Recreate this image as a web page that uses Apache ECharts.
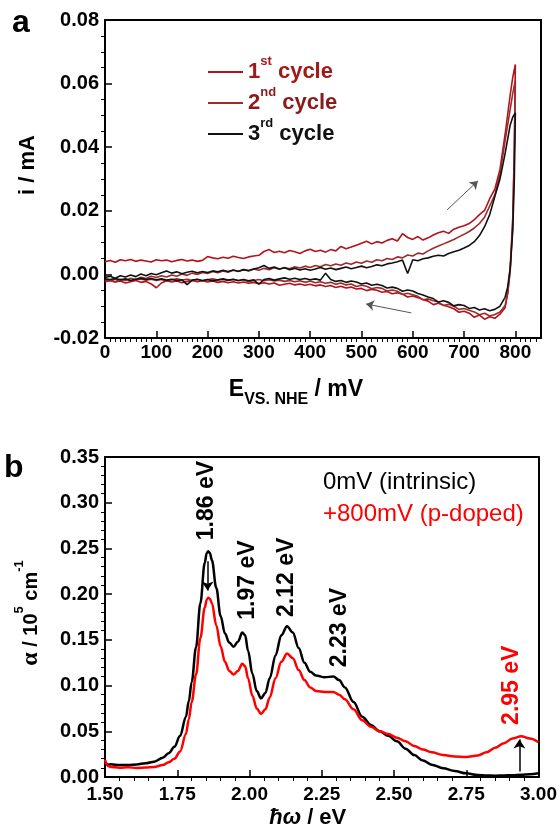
<!DOCTYPE html>
<html>
<head>
<meta charset="utf-8">
<script src="https://cdn.jsdelivr.net/npm/echarts@6/dist/echarts.min.js"></script>
<style>
  html, body { margin: 0; padding: 0; background: #fff; }
  #chart { width: 560px; height: 833px; }
</style>
</head>
<body>
<div id="chart"></div>
<script>
// ---------- (a) cyclic voltammetry, three cycles ----------
// forward sweep potentials (mV vs NHE)
const potentialFwd = [
  0, 10, 20, 30, 40, 50, 60, 70, 80, 90,
  100, 110, 120, 130, 140, 150, 160, 170, 180, 190,
  200, 210, 220, 230, 240, 250, 260, 270, 280, 290,
  300, 310, 320, 330, 340, 350, 360, 370, 380, 390,
  400, 410, 420, 430, 440, 450, 460, 470, 480, 490,
  500, 510, 520, 530, 540, 550, 560, 570, 580, 590,
  600, 610, 620, 630, 640, 650, 660, 670, 680, 690,
  700, 710, 720, 730, 740, 750, 760, 770, 780, 790,
  795, 800
];
// reverse sweep potentials (mV vs NHE)
const potentialRev = [
  800, 798, 795, 790, 785, 780,
  770, 760, 750, 740, 730, 720, 710, 700, 690, 680,
  670, 660, 650, 640, 630, 620, 610, 600, 590, 580,
  570, 560, 550, 540, 530, 520, 510, 500, 490, 480,
  470, 460, 450, 440, 430, 420, 410, 400, 390, 380,
  370, 360, 350, 340, 330, 320, 310, 300, 290, 280,
  270, 260, 250, 240, 230, 220, 210, 200, 190, 180,
  170, 160, 150, 140, 130, 120, 110, 100, 90, 80,
  70, 60, 50, 40, 30, 20, 10, 0
];
// currents (mA)
const cycle1Fwd = [
  0.0040, 0.0044, 0.0038, 0.0046, 0.0043, 0.0047, 0.0041, 0.0045, 0.0042, 0.0039,
  0.0046, 0.0043, 0.0045, 0.0040, 0.0044, 0.0047, 0.0042, 0.0045, 0.0041, 0.0044,
  0.0056, 0.0052, 0.0049, 0.0054, 0.0051, 0.0057, 0.0053, 0.0050, 0.0055, 0.0058,
  0.0060, 0.0072, 0.0078, 0.0069, 0.0073, 0.0068, 0.0075, 0.0071, 0.0066, 0.0074,
  0.0079, 0.0072, 0.0076, 0.0070, 0.0078, 0.0074, 0.0088, 0.0081, 0.0086, 0.0092,
  0.0098, 0.0104, 0.0096, 0.0103, 0.0099, 0.0107, 0.0112, 0.0105, 0.0128, 0.0116,
  0.0110, 0.0119, 0.0108, 0.0115, 0.0124, 0.0131, 0.0136, 0.0129, 0.0142, 0.0148,
  0.0153, 0.0160, 0.0172, 0.0188, 0.0201, 0.0238, 0.0268, 0.0330, 0.0440, 0.0565,
  0.0620, 0.0660
];
const cycle1Rev = [
  0.0660, 0.0400, 0.0180, 0.0020, -0.0060, -0.0105,
  -0.0125, -0.0138, -0.0133, -0.0141, -0.0128, -0.0135, -0.0122, -0.0116, -0.0119, -0.0108,
  -0.0102, -0.0097, -0.0091, -0.0095, -0.0084, -0.0079, -0.0073, -0.0068, -0.0071, -0.0062,
  -0.0058, -0.0061, -0.0054, -0.0056, -0.0050, -0.0047, -0.0051, -0.0044, -0.0046, -0.0040,
  -0.0043, -0.0037, -0.0041, -0.0035, -0.0038, -0.0033, -0.0036, -0.0031, -0.0034, -0.0030,
  -0.0033, -0.0028, -0.0031, -0.0034, -0.0027, -0.0030, -0.0026, -0.0029, -0.0025, -0.0028,
  -0.0024, -0.0027, -0.0023, -0.0026, -0.0022, -0.0025, -0.0021, -0.0024, -0.0020, -0.0023,
  -0.0019, -0.0022, -0.0026, -0.0021, -0.0024, -0.0020, -0.0027, -0.0042, -0.0030, -0.0022,
  -0.0025, -0.0019, -0.0023, -0.0027, -0.0021, -0.0024, -0.0020, -0.0023
];
const cycle2Fwd = [
  -0.0022, -0.0018, -0.0024, -0.0015, -0.0019, -0.0012, -0.0016, -0.0009, -0.0013, -0.0006,
  -0.0010, -0.0004, -0.0008, -0.0002, -0.0006, 0.0001, -0.0003, 0.0004, 0.0000, 0.0006,
  0.0003, 0.0009, 0.0005, 0.0011, 0.0007, 0.0013, 0.0009, 0.0015, 0.0011, 0.0017,
  0.0013, 0.0019, 0.0015, 0.0021, 0.0016, 0.0022, 0.0018, 0.0024, 0.0020, 0.0026,
  0.0022, 0.0028, 0.0024, 0.0031, 0.0027, 0.0033, 0.0029, 0.0036, 0.0032, 0.0039,
  0.0035, 0.0042, 0.0038, 0.0046, 0.0043, 0.0050, 0.0047, 0.0055, 0.0052, 0.0061,
  0.0058, 0.0067, 0.0064, 0.0074, 0.0082, 0.0089, 0.0096, 0.0103, 0.0110, 0.0118,
  0.0126, 0.0135, 0.0146, 0.0160, 0.0180, 0.0215, 0.0250, 0.0315, 0.0420, 0.0520,
  0.0570, 0.0610
];
const cycle2Rev = [
  0.0610, 0.0380, 0.0160, 0.0010, -0.0060, -0.0098,
  -0.0118, -0.0126, -0.0131, -0.0122, -0.0127, -0.0118, -0.0113, -0.0107, -0.0110, -0.0100,
  -0.0094, -0.0098, -0.0087, -0.0083, -0.0077, -0.0080, -0.0069, -0.0064, -0.0059, -0.0063,
  -0.0053, -0.0049, -0.0052, -0.0044, -0.0041, -0.0045, -0.0037, -0.0034, -0.0038, -0.0030,
  -0.0033, -0.0027, -0.0031, -0.0025, -0.0028, -0.0023, -0.0026, -0.0021, -0.0025, -0.0020,
  -0.0023, -0.0019, -0.0022, -0.0018, -0.0021, -0.0017, -0.0020, -0.0016, -0.0019, -0.0023,
  -0.0017, -0.0020, -0.0016, -0.0019, -0.0015, -0.0018, -0.0014, -0.0017, -0.0021, -0.0016,
  -0.0019, -0.0015, -0.0018, -0.0014, -0.0017, -0.0021, -0.0016, -0.0019, -0.0015, -0.0018,
  -0.0014, -0.0017, -0.0020, -0.0016, -0.0019, -0.0015, -0.0018, -0.0016
];
const cycle3Fwd = [
  -0.0010, -0.0006, -0.0012, -0.0004, -0.0008, -0.0002, -0.0007, 0.0001, -0.0004, 0.0003,
  -0.0001, 0.0005, 0.0011, 0.0004, 0.0008, 0.0002, 0.0007, 0.0010, 0.0005, 0.0009,
  0.0006, 0.0011, 0.0008, 0.0013, 0.0009, 0.0014, 0.0010, 0.0015, 0.0012, 0.0017,
  0.0021, 0.0028, 0.0019, 0.0023, 0.0017, 0.0021, 0.0015, 0.0019, 0.0014, 0.0018,
  0.0013, 0.0017, 0.0022, 0.0016, 0.0020, 0.0015, 0.0019, 0.0023, 0.0018, 0.0022,
  0.0026, 0.0021, 0.0025, 0.0030, 0.0027, 0.0033, 0.0036, 0.0040, 0.0045, 0.0003,
  0.0046, 0.0043, 0.0049, 0.0052, 0.0057, 0.0060, 0.0058, 0.0066, 0.0071, 0.0076,
  0.0083, 0.0091, 0.0103, 0.0122, 0.0150, 0.0188, 0.0245, 0.0300, 0.0380, 0.0470,
  0.0495, 0.0508
];
const cycle3Rev = [
  0.0508, 0.0300, 0.0140, 0.0020, -0.0040, -0.0072,
  -0.0100, -0.0110, -0.0114, -0.0108, -0.0112, -0.0104, -0.0107, -0.0098, -0.0095, -0.0099,
  -0.0088, -0.0083, -0.0087, -0.0076, -0.0071, -0.0065, -0.0060, -0.0052, -0.0049, -0.0053,
  -0.0044, -0.0040, -0.0043, -0.0035, -0.0031, -0.0034, -0.0027, -0.0030, -0.0024, -0.0021,
  -0.0025, -0.0019, -0.0022, -0.0016, 0.0004, -0.0018, -0.0014, -0.0017, -0.0013, -0.0016,
  -0.0012, -0.0015, -0.0011, -0.0014, -0.0018, -0.0013, -0.0016, -0.0031, -0.0017, -0.0020,
  -0.0016, -0.0019, -0.0015, -0.0018, -0.0014, -0.0017, -0.0021, -0.0016, -0.0019, -0.0015,
  -0.0018, -0.0032, -0.0017, -0.0020, -0.0015, -0.0018, -0.0014, -0.0017, -0.0013, -0.0016,
  -0.0012, -0.0015, -0.0019, -0.0014, -0.0017, -0.0013, -0.0016, -0.0014
];
const cycleNames = ['1st cycle', '2nd cycle', '3rd cycle'];

// ---------- (b) absorption spectra ----------
const photonEnergy = [
  1.50, 1.51, 1.52, 1.55, 1.58, 1.61, 1.64, 1.67, 1.70, 1.72,
  1.74, 1.76, 1.78, 1.79, 1.80, 1.815, 1.83, 1.845, 1.852, 1.857,
  1.863, 1.87, 1.885, 1.90, 1.915, 1.93, 1.945, 1.96, 1.975, 1.985,
  1.995, 2.01, 2.025, 2.04, 2.055, 2.07, 2.09, 2.11, 2.13, 2.15,
  2.17, 2.19, 2.21, 2.23, 2.26, 2.29, 2.31, 2.33, 2.36, 2.39,
  2.42, 2.45, 2.48, 2.51, 2.54, 2.57, 2.60, 2.63, 2.67, 2.71,
  2.75, 2.79, 2.82, 2.85, 2.88, 2.91, 2.94, 2.97, 3.00
];
// absorption coefficient (10^5 cm^-1)
const alphaIntrinsic = [
  0.0160, 0.0135, 0.0140, 0.0130, 0.0132, 0.0138, 0.0150, 0.0168, 0.0210, 0.0260,
  0.0330, 0.0450, 0.0660, 0.0830, 0.1040, 0.1420, 0.1900, 0.2340, 0.2450, 0.2470,
  0.2450, 0.2370, 0.2070, 0.1760, 0.1570, 0.1470, 0.1425, 0.1480, 0.1580, 0.1550,
  0.1380, 0.1130, 0.0940, 0.0860, 0.0920, 0.1080, 0.1330, 0.1550, 0.1650, 0.1580,
  0.1410, 0.1250, 0.1150, 0.1110, 0.1090, 0.1100, 0.1060, 0.0980, 0.0820, 0.0660,
  0.0570, 0.0500, 0.0450, 0.0390, 0.0310, 0.0240, 0.0180, 0.0135, 0.0095, 0.0065,
  0.0040, 0.0022, 0.0016, 0.0015, 0.0017, 0.0020, 0.0025, 0.0030, 0.0040
];
const alphaDoped = [
  0.0190, 0.0120, 0.0110, 0.0102, 0.0106, 0.0099, 0.0104, 0.0110, 0.0130, 0.0160,
  0.0200, 0.0280, 0.0470, 0.0630, 0.0820, 0.1120, 0.1520, 0.1850, 0.1940, 0.1960,
  0.1950, 0.1900, 0.1660, 0.1430, 0.1260, 0.1160, 0.1120, 0.1160, 0.1240, 0.1210,
  0.1080, 0.0890, 0.0750, 0.0690, 0.0740, 0.0870, 0.1080, 0.1260, 0.1350, 0.1300,
  0.1170, 0.1060, 0.0980, 0.0940, 0.0930, 0.0930, 0.0900, 0.0850, 0.0740, 0.0620,
  0.0550, 0.0500, 0.0470, 0.0430, 0.0390, 0.0340, 0.0300, 0.0270, 0.0240, 0.0225,
  0.0220, 0.0235, 0.0270, 0.0320, 0.0370, 0.0420, 0.0445, 0.0420, 0.0380
];
const spectrumNames = ['0mV (intrinsic)', '+800mV (p-doped)'];
// peak annotations: text and the [energy, alpha] point where the rotated text starts
const peakLabels = ['1.86 eV', '1.97 eV', '2.12 eV', '2.23 eV', '2.95 eV'];
const peakLabelAnchors = [[1.851, 0.259], [1.992, 0.172], [2.130, 0.175], [2.312, 0.120], [2.907, 0.057]];
const peakLabelSeries = [0, 0, 0, 0, 1];

[cycle1Fwd, cycle2Fwd, cycle3Fwd].forEach(a => { if (a.length !== potentialFwd.length) throw new Error('fwd length ' + a.length); });
[cycle1Rev, cycle2Rev, cycle3Rev].forEach(a => { if (a.length !== potentialRev.length) throw new Error('rev length ' + a.length); });
[alphaIntrinsic, alphaDoped].forEach(a => { if (a.length !== photonEnergy.length) throw new Error('spec length ' + a.length); });

const FONT = 'Liberation Sans';
const cycleColors = ['#b3121a', '#9c2b2c', '#111111'];
const cycleTextColors = ['#a31818', '#8b1a1a', '#111111'];
const spectrumColors = ['#000000', '#ff0000'];

function loop(fwd, rev) {
  return potentialFwd.map((e, k) => [e, fwd[k]]).concat(potentialRev.map((e, k) => [e, rev[k]]));
}
const cycleData = [loop(cycle1Fwd, cycle1Rev), loop(cycle2Fwd, cycle2Rev), loop(cycle3Fwd, cycle3Rev)];
const spectrumData = [
  photonEnergy.map((e, k) => [e, alphaIntrinsic[k]]),
  photonEnergy.map((e, k) => [e, alphaDoped[k]])
];

const mkLine = () => ({ show: true, onZero: false, lineStyle: { color: '#000', width: 2 } });
const mkTick = () => ({ show: true, inside: true, length: 7, lineStyle: { color: '#000', width: 1.5 } });
// minor ticks point into the plot as well
const mkMinor = n => ({ show: true, splitNumber: n, length: -4, lineStyle: { color: '#000', width: 1 } });
const tickLabel = (size, margin, digits) => ({
  show: true, color: '#000', fontSize: size, fontWeight: 'bold', fontFamily: FONT, margin: margin,
  formatter: v => digits == null ? String(v) : v.toFixed(digits)
});
// plain frame edges on the opposite sides of each panel
const frameAxis = (grid, pos, min, max) => ({
  gridIndex: grid, type: 'value', position: pos, min, max,
  axisLine: mkLine(), axisTick: { show: false }, axisLabel: { show: false }, splitLine: { show: false }
});
const peakMarks = s => peakLabels
  .map((txt, k) => ({ name: txt, coord: peakLabelAnchors[k], s: peakLabelSeries[k] }))
  .filter(d => d.s === s)
  .map(d => ({ name: d.name, coord: d.coord }));

const chart = echarts.init(document.getElementById('chart'));

const option = {
  animation: false,
  backgroundColor: '#fff',
  grid: [
    { left: 105, top: 20, width: 436, height: 318 },
    { left: 105, top: 457, width: 436, height: 320 }
  ],
  xAxis: [
    {
      gridIndex: 0, type: 'value', position: 'bottom', min: 0, max: 850, interval: 100,
      axisLine: mkLine(), axisTick: mkTick(), minorTick: mkMinor(10),
      splitLine: { show: false },
      axisLabel: Object.assign(tickLabel(19, 5, null), { showMaxLabel: false }),
      name: '{e|E}{sub|VS. NHE}{e| / mV}',
      nameLocation: 'middle', nameGap: 34,
      nameTextStyle: {
        color: '#000', padding: [0, 54, 0, 0],
        rich: {
          e: { fontSize: 23, fontWeight: 'bold', fontFamily: FONT, color: '#000', lineHeight: 36 },
          sub: { fontSize: 16, fontWeight: 'bold', fontFamily: FONT, color: '#000', lineHeight: 16, verticalAlign: 'bottom' }
        }
      }
    },
    {
      gridIndex: 1, type: 'value', position: 'bottom', min: 1.5, max: 3.0, interval: 0.25,
      axisLine: mkLine(), axisTick: mkTick(), minorTick: mkMinor(5),
      splitLine: { show: false },
      axisLabel: tickLabel(19, 8, 2),
      name: '{i|ħω}{t| / eV}',
      nameLocation: 'middle', nameGap: 30,
      nameTextStyle: {
        color: '#000', padding: [0, 28, 0, 0],
        rich: {
          i: { fontSize: 22, fontWeight: 'bold', fontStyle: 'italic', fontFamily: FONT, color: '#000' },
          t: { fontSize: 22, fontWeight: 'bold', fontFamily: FONT, color: '#000' }
        }
      }
    },
    frameAxis(0, 'top', 0, 850),
    frameAxis(1, 'top', 1.5, 3.0)
  ],
  yAxis: [
    {
      gridIndex: 0, type: 'value', position: 'left', min: -0.02, max: 0.08, interval: 0.02,
      axisLine: mkLine(), axisTick: mkTick(), minorTick: mkMinor(4),
      splitLine: { show: false },
      axisLabel: tickLabel(20, 6, 2),
      name: 'i / mA',
      nameLocation: 'middle', nameRotate: 90, nameGap: 66,
      nameTextStyle: { color: '#000', fontSize: 22, fontWeight: 'bold', fontFamily: FONT, padding: [0, 0, 0, 28] }
    },
    {
      gridIndex: 1, type: 'value', position: 'left', min: 0, max: 0.35, interval: 0.05,
      axisLine: mkLine(), axisTick: mkTick(), minorTick: mkMinor(5),
      splitLine: { show: false },
      axisLabel: tickLabel(20, 6, 2),
      name: '{a|α}{t| / 10}{s|5}{t| cm}{s|-1}',
      nameLocation: 'middle', nameRotate: 90, nameGap: 56,
      nameTextStyle: {
        color: '#000', padding: [0, 0, 0, 8],
        rich: {
          a: { fontSize: 24, fontWeight: 'bold', fontFamily: 'Liberation Serif', color: '#000', lineHeight: 36 },
          t: { fontSize: 20, fontWeight: 'bold', fontFamily: FONT, color: '#000', lineHeight: 36 },
          s: { fontSize: 13, fontWeight: 'bold', fontFamily: FONT, color: '#000', lineHeight: 12, verticalAlign: 'top' }
        }
      }
    },
    frameAxis(0, 'right', -0.02, 0.08),
    frameAxis(1, 'right', 0, 0.35)
  ],
  legend: [
    {
      data: cycleNames.map(n => ({ name: n })),
      orient: 'vertical', left: 203, top: 50, itemWidth: 35, itemHeight: 2, itemGap: 3,
      icon: 'rect', selectedMode: false,
      formatter: name => {
        const k = cycleNames.indexOf(name);
        const num = name.slice(0, 1), sup = name.slice(1, 3), rest = name.slice(3);
        return '{n' + k + '|' + num + '}{s' + k + '|' + sup + '}{n' + k + '|' + rest + '}';
      },
      textStyle: {
        rich: {
          n0: { fontSize: 22, fontWeight: 'bold', fontFamily: FONT, color: cycleTextColors[0], lineHeight: 34 },
          s0: { fontSize: 13, fontWeight: 'bold', fontFamily: FONT, color: cycleTextColors[0], lineHeight: 12, verticalAlign: 'top' },
          n1: { fontSize: 22, fontWeight: 'bold', fontFamily: FONT, color: cycleTextColors[1], lineHeight: 34 },
          s1: { fontSize: 13, fontWeight: 'bold', fontFamily: FONT, color: cycleTextColors[1], lineHeight: 12, verticalAlign: 'top' },
          n2: { fontSize: 22, fontWeight: 'bold', fontFamily: FONT, color: cycleTextColors[2], lineHeight: 34 },
          s2: { fontSize: 13, fontWeight: 'bold', fontFamily: FONT, color: cycleTextColors[2], lineHeight: 12, verticalAlign: 'top' }
        }
      }
    },
    {
      data: spectrumNames.map((n, k) => ({ name: n, textStyle: { color: spectrumColors[k] } })),
      orient: 'vertical', left: 313, top: 463, itemWidth: 0, itemHeight: 0, itemGap: 4,
      icon: 'rect', selectedMode: false,
      textStyle: { fontSize: 24, fontFamily: FONT, lineHeight: 28 }
    }
  ],
  graphic: [
    { type: 'text', x: 12, y: 39, silent: true, style: { text: 'a', fill: '#000', font: 'bold 32px "' + FONT + '"', align: 'left', verticalAlign: 'bottom' } },
    { type: 'text', x: 4, y: 484, silent: true, style: { text: 'b', fill: '#000', font: 'bold 32px "' + FONT + '"', align: 'left', verticalAlign: 'bottom' } }
  ],
  series: [
    ...cycleData.map((d, k) => ({
      name: cycleNames[k], type: 'line', xAxisIndex: 0, yAxisIndex: 0,
      data: d, showSymbol: false, symbol: 'none', silent: true,
      lineStyle: { color: cycleColors[k], width: 1.6 },
      itemStyle: { color: cycleColors[k] },
      markLine: k === 2 ? {
        silent: true, symbol: ['none', 'arrow'], symbolSize: 8,
        label: { show: false },
        lineStyle: { color: '#555', width: 1, type: 'solid' },
        data: [
          [{ coord: [667, 0.0203] }, { coord: [727, 0.0294] }],
          [{ coord: [597, -0.0121] }, { coord: [509, -0.0093] }]
        ]
      } : undefined
    })),
    ...spectrumData.map((d, k) => ({
      name: spectrumNames[k], type: 'line', xAxisIndex: 1, yAxisIndex: 1,
      data: d, showSymbol: false, symbol: 'none', silent: true,
      smooth: 0.35, smoothMonotone: 'x',
      lineStyle: { color: spectrumColors[k], width: 2.5 },
      itemStyle: { color: spectrumColors[k] },
      markPoint: {
        silent: true, symbol: 'circle', symbolSize: 0,
        label: {
          show: true, position: 'inside', rotate: 90, align: 'left', verticalAlign: 'middle',
          color: spectrumColors[k], fontSize: 23, fontWeight: 'bold', fontFamily: FONT,
          formatter: p => p.name
        },
        data: peakMarks(k)
      },
      markLine: k === 0 ? {
        silent: true, symbol: ['none', 'arrow'], symbolSize: 9,
        label: { show: false },
        lineStyle: { color: '#000', width: 1.5, type: 'solid' },
        data: [
          [{ coord: [1.855, 0.236] }, { coord: [1.855, 0.204] }],
          [{ coord: [2.934, 0.006] }, { coord: [2.934, 0.041] }]
        ]
      } : undefined
    }))
  ]
};

chart.setOption(option);
</script>
</body>
</html>
